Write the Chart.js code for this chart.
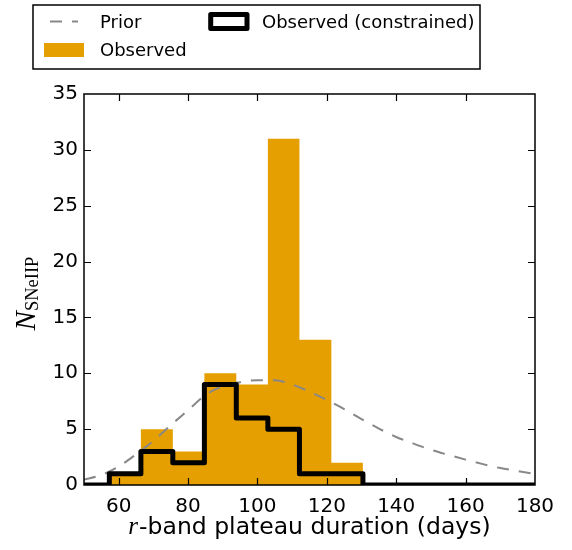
<!DOCTYPE html>
<html>
<head>
<meta charset="utf-8">
<script src="https://cdn.jsdelivr.net/npm/chart.js@4.4.1/dist/chart.umd.min.js"></script>
<style>
  html, body { margin: 0; padding: 0; background: #fff; }
  #wrap { width: 572px; height: 550px; position: relative; }
</style>
</head>
<body>
<div id="wrap"><canvas id="c" width="572" height="550"></canvas></div>
<script>
// Histogram bin edges (days) shared by both histograms
const binEdges = [57.3, 66.4, 75.6, 84.7, 93.9, 103.0, 112.1, 121.3, 130.4];
// Counts per bin
const observedCounts = [1, 5, 3, 10, 9, 31, 13, 2];
const constrainedCounts = [1, 3, 2, 9, 6, 5, 1, 1];
// Prior curve, sampled every 5 days
const priorDays = [50, 55, 60, 65, 70, 75, 80, 85, 90, 95, 100, 105, 110, 115, 120,
                   125, 130, 135, 140, 145, 150, 155, 160, 165, 170, 175, 180];
const priorValues = [0.48, 0.9, 1.65, 2.75, 3.95, 5.35, 6.7, 8.05, 8.85, 9.2, 9.38, 9.38,
                     9.0, 8.35, 7.6, 6.8, 5.9, 5.05, 4.3, 3.7, 3.15, 2.7, 2.27, 1.87,
                     1.52, 1.25, 0.98];
// Axis ticks
const xTicks = [60, 80, 100, 120, 140, 160, 180];
const xMarks = [60, 80, 100, 120, 140, 160];
const yTicks = [0, 5, 10, 15, 20, 25, 30, 35];
const yMarks = [5, 10, 15, 20, 25, 30];
const X_MIN = 50, X_MAX = 180, Y_MIN = 0, Y_MAX = 35;

const ORANGE = '#E69F00';
const GREY = '#888888';

// Step-histogram points: each bin value sits at its left edge, closed at the last edge
function stepPoints(edges, counts, padStart, padEnd) {
  const pts = [];
  if (padStart !== undefined) pts.push({ x: padStart, y: 0 });
  counts.forEach((c, i) => pts.push({ x: edges[i], y: c }));
  pts.push({ x: edges[edges.length - 1], y: 0 });
  if (padEnd !== undefined) pts.push({ x: padEnd, y: 0 });
  return pts;
}

const priorPoints = priorDays.map((d, i) => ({ x: d, y: priorValues[i] }));

// Frame, inward ticks on all four sides, axis titles and the legend box
const decorations = {
  id: 'decorations',
  afterDatasetsDraw(chart) {
    const { ctx, chartArea: a, scales } = chart;
    const xs = scales.x, ys = scales.y;
    const tl = 7;
    ctx.save();
    ctx.strokeStyle = '#000';
    ctx.lineWidth = 1.5;
    ctx.strokeRect(a.left, a.top, a.right - a.left, a.bottom - a.top);
    ctx.lineWidth = 1.2;
    ctx.beginPath();
    xMarks.forEach(v => {
      const px = Math.round(xs.getPixelForValue(v)) + 0.5;
      ctx.moveTo(px, a.bottom); ctx.lineTo(px, a.bottom - tl);
      ctx.moveTo(px, a.top); ctx.lineTo(px, a.top + tl);
    });
    yMarks.forEach(v => {
      const py = Math.round(ys.getPixelForValue(v)) + 0.5;
      ctx.moveTo(a.left, py); ctx.lineTo(a.left + tl, py);
      ctx.moveTo(a.right, py); ctx.lineTo(a.right - tl, py);
    });
    ctx.stroke();
    ctx.restore();
  },
  afterDraw(chart) {
    const { ctx, chartArea: a } = chart;
    const ds = chart.data.datasets;
    ctx.save();
    ctx.fillStyle = '#000';

    // x-axis title: italic math r followed by plain text
    const fMath = 'italic 25px "Liberation Serif", "DejaVu Serif", serif';
    const fText = '23.5px "DejaVu Sans", sans-serif';
    ctx.font = fMath; const wr = ctx.measureText('r').width;
    ctx.font = fText; const rest = '-band plateau duration (days)';
    const wt = ctx.measureText(rest).width;
    const cx = (a.left + a.right) / 2;
    let sx = cx - (wr + 1 + wt) / 2;
    ctx.textBaseline = 'alphabetic';
    ctx.textAlign = 'left';
    ctx.font = fMath; ctx.fillText('r', sx, 534);
    ctx.font = fText; ctx.fillText(rest, sx + wr + 1, 534);

    // y-axis title: N with roman subscript SNeIIP, rotated
    const fN = 'italic 29px "Liberation Serif", "DejaVu Serif", serif';
    const fSub = '18.5px "Liberation Serif", "DejaVu Serif", serif';
    ctx.font = fN; const wN = ctx.measureText('N').width;
    ctx.font = fSub; const wS = ctx.measureText('SNeIIP').width;
    ctx.translate(35, (a.top + a.bottom) / 2 + 4);
    ctx.rotate(-Math.PI / 2);
    const ox = -(wN + wS) / 2;
    ctx.font = fN; ctx.fillText('N', ox, 0);
    ctx.font = fSub; ctx.fillText('SNeIIP', ox + wN, 3);
    ctx.setTransform(1, 0, 0, 1, 0, 0);

    // Legend box
    ctx.lineWidth = 1.5;
    ctx.strokeStyle = '#000';
    ctx.fillStyle = '#fff';
    ctx.fillRect(33, 5, 447, 64);
    ctx.strokeRect(33, 5, 447, 64);

    const prior = ds.find(d => d.id === 'prior');
    const obs = ds.find(d => d.id === 'observed');
    const con = ds.find(d => d.id === 'constrained');

    // Prior sample
    ctx.strokeStyle = prior.borderColor;
    ctx.lineWidth = prior.borderWidth;
    ctx.setLineDash(prior.borderDash);
    ctx.beginPath(); ctx.moveTo(50, 21.5); ctx.lineTo(78, 21.5); ctx.stroke();
    ctx.setLineDash([]);

    // Observed sample
    ctx.fillStyle = obs.backgroundColor;
    ctx.fillRect(44, 43, 40, 14);

    // Constrained sample
    ctx.strokeStyle = con.borderColor;
    ctx.lineWidth = 5;
    ctx.lineJoin = 'round';
    ctx.strokeRect(210.7, 14.6, 36.3, 13.8);

    ctx.fillStyle = '#000';
    ctx.font = '18px "DejaVu Sans", sans-serif';
    ctx.textBaseline = 'alphabetic';
    ctx.fillText(prior.label, 100, 28);
    ctx.fillText(obs.label, 100, 56);
    ctx.fillText(con.label, 262, 28);
    ctx.restore();
  }
};

new Chart(document.getElementById('c'), {
  type: 'line',
  data: {
    datasets: [
      {
        id: 'observed',
        label: 'Observed',
        data: stepPoints(binEdges, observedCounts),
        stepped: 'before',
        borderWidth: 0,
        borderColor: 'rgba(0,0,0,0)',
        backgroundColor: ORANGE,
        fill: 'origin',
        pointRadius: 0,
        order: 3
      },
      {
        id: 'prior',
        label: 'Prior',
        data: priorPoints,
        borderColor: GREY,
        borderWidth: 2,
        borderDash: [12, 10],
        cubicInterpolationMode: 'monotone',
        fill: false,
        pointRadius: 0,
        order: 2
      },
      {
        id: 'constrained',
        label: 'Observed (constrained)',
        data: stepPoints(binEdges, constrainedCounts, X_MIN, X_MAX),
        stepped: 'before',
        borderColor: '#000',
        borderWidth: 5,
        borderJoinStyle: 'round',
        fill: false,
        pointRadius: 0,
        order: 1
      }
    ]
  },
  options: {
    responsive: false,
    animation: false,
    devicePixelRatio: 1,
    layout: { padding: { top: 94, right: 37, left: 0, bottom: 0 } },
    plugins: { legend: { display: false }, tooltip: { enabled: false } },
    scales: {
      x: {
        type: 'linear',
        min: X_MIN, max: X_MAX,
        grid: { display: false, drawTicks: false },
        border: { display: false },
        ticks: { font: { family: 'DejaVu Sans', size: 20 }, color: '#000', padding: 10, maxRotation: 0 },
        afterBuildTicks(s) { s.ticks = xTicks.map(v => ({ value: v })); },
        afterFit(s) { s.height = 65; }
      },
      y: {
        type: 'linear',
        min: Y_MIN, max: Y_MAX,
        grid: { display: false, drawTicks: false },
        border: { display: false },
        ticks: { font: { family: 'DejaVu Sans', size: 20 }, color: '#000', padding: 6 },
        afterBuildTicks(s) { s.ticks = yTicks.map(v => ({ value: v })); },
        afterFit(s) { s.width = 84; }
      }
    }
  },
  plugins: [decorations]
});
</script>
</body>
</html>
